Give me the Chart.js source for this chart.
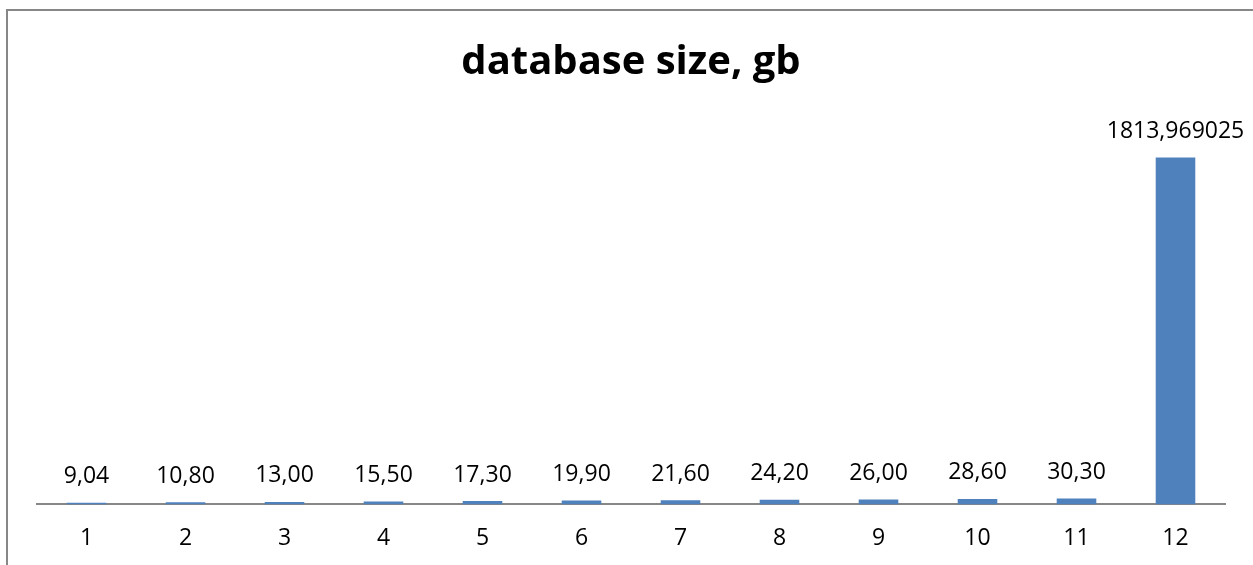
<!DOCTYPE html>
<html>
<head>
<meta charset="utf-8">
<script src="https://cdn.jsdelivr.net/npm/chart.js@4/dist/chart.umd.min.js"></script>
<style>
  html, body { margin: 0; padding: 0; background: #fff; overflow: hidden; }
  #wrap { position: relative; width: 1253px; height: 565px; }
  #frame {
    position: absolute; left: 6px; top: 9px; width: 1300px; height: 600px;
    border: 2px solid #878787; box-sizing: border-box; pointer-events: none;
  }
  canvas { position: absolute; left: 0; top: 0; }
</style>
</head>
<body>
<div id="wrap">
  <canvas id="chart" width="1253" height="565"></canvas>
  <div id="frame"></div>
</div>
<script>
// database size, gb — столбцы по периодам
const categories = ['1', '2', '3', '4', '5', '6', '7', '8', '9', '10', '11', '12'];
const sizes = [9.04, 10.80, 13.00, 15.50, 17.30, 19.90, 21.60, 24.20, 26.00, 28.60, 30.30, 1813.969025];
const yRange = [0, 2000];

const BAR_COLOR = '#4f81bd';
const AXIS_COLOR = '#878787';
const FONT = '"Open Sans", "DejaVu Sans", sans-serif';

function formatValue(v) {
  const cents = v * 100;
  const s = Math.abs(cents - Math.round(cents)) < 1e-6 ? v.toFixed(2) : String(v);
  return s.replace('.', ',');
}

// подписи над столбцами
const valueLabels = {
  id: 'valueLabels',
  afterDatasetsDraw(chart) {
    const { ctx } = chart;
    const meta = chart.getDatasetMeta(0);
    ctx.save();
    ctx.font = '23px ' + FONT;
    ctx.fillStyle = '#000';
    ctx.textAlign = 'center';
    ctx.textBaseline = 'middle';
    meta.data.forEach((bar, i) => {
      ctx.fillText(formatValue(sizes[i]), bar.x, bar.y - 26);
    });
    ctx.restore();
  },
};

new Chart(document.getElementById('chart'), {
  type: 'bar',
  data: {
    labels: categories,
    datasets: [{
      data: sizes,
      backgroundColor: BAR_COLOR,
      borderWidth: 0,
      barPercentage: 0.4,
      categoryPercentage: 1,
    }],
  },
  options: {
    responsive: false,
    animation: false,
    layout: { padding: { left: 37, right: 28, top: 0, bottom: -7 } },
    plugins: {
      legend: { display: false },
      tooltip: { enabled: false },
      title: {
        display: true,
        text: 'database size, gb',
        color: '#000',
        font: { family: FONT, size: 40, weight: 'bold' },
        padding: { top: 39, bottom: 35 },
      },
    },
    scales: {
      x: {
        grid: { display: false, drawTicks: false },
        border: { display: true, color: AXIS_COLOR, width: 2 },
        ticks: { color: '#000', padding: 20, font: { family: FONT, size: 23 } },
      },
      y: {
        display: false,
        min: yRange[0],
        max: yRange[1],
      },
    },
  },
  plugins: [valueLabels],
});
</script>
</body>
</html>
